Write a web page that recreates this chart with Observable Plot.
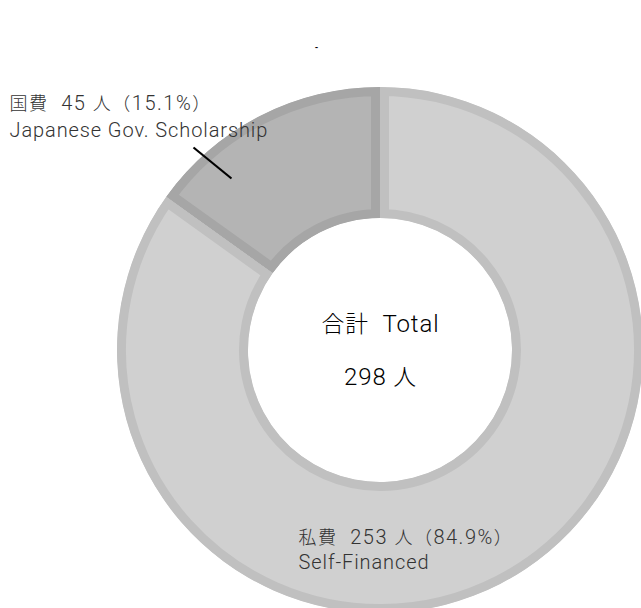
<!DOCTYPE html>
<html>
<head>
<meta charset="utf-8">
<script src="https://cdn.jsdelivr.net/npm/d3@7"></script>
<script src="https://cdn.jsdelivr.net/npm/@observablehq/plot@0.6"></script>
<style>
  html, body { margin: 0; padding: 0; background: #fff; }
  svg { display: block; }
</style>
</head>
<body>
<div id="chart"></div>
<script>
// ---- data ----
const categories = ["私費", "国費"];
const englishLabels = ["Self-Financed", "Japanese Gov. Scholarship"];
const counts = [253, 45];
const percents = [84.9, 15.1];
const totalLabel = "合計\u00a0 Total";
const total = 298;
const unit = "人";

const rows = categories.map((c, i) => ({
  category: c, english: englishLabels[i], count: counts[i], percent: percents[i]
}));

// ---- layout ----
const W = 641, H = 608;
const cx = 380, cy = 350, rOuter = 263, rInner = 132, border = 9;
const font = "Roboto, 'Noto Sans CJK JP', sans-serif";

const pie = d3.pie().sort(null).value(d => d.count);
const arcs = pie(rows);
const borderColors = {"私費": "#c0c0c0", "国費": "#a6a6a6"};

function donutMark(index, scales, values, dimensions, context) {
  const g = d3.create("svg:g")
    .attr("transform", `translate(${scales.x(cx)},${scales.y(cy)})`);
  const arc = d3.arc().innerRadius(rInner).outerRadius(rOuter);
  arcs.forEach((a, i) => {
    const id = "clip-slice-" + i;
    const d = arc(a);
    g.append("clipPath").attr("id", id).append("path").attr("d", d);
    g.append("path")
      .attr("d", d)
      .attr("fill", scales.color(a.data.category))
      .attr("stroke", borderColors[a.data.category])
      .attr("stroke-width", border * 2)
      .attr("clip-path", `url(#${id})`);
  });
  return g.node();
}

const labelLine = r => `${r.category}\u00a0 ${r.count} ${unit}（${r.percent}%）`;
const govLines = [labelLine(rows[1]), rows[1].english];
const selfLines = [labelLine(rows[0]), rows[0].english];

const plot = Plot.plot({
  width: W,
  height: H,
  margin: 0,
  x: {domain: [0, W], range: [0, W], axis: null},
  y: {domain: [0, H], range: [0, H], axis: null},
  color: {domain: categories, range: ["#d0d0d0", "#b4b4b4"]},
  style: {fontFamily: font, background: "#fff"},
  marks: [
    donutMark,
    Plot.link([0], {x1: 193, y1: 147, x2: 231, y2: 178, stroke: "#000", strokeWidth: 2.2}),
    Plot.text(govLines, {x: 9, y: (d, i) => 103 + i * 27, text: d => d, textAnchor: "start", fontSize: 20, fontWeight: 300, fill: "#333"}),
    Plot.text(selfLines, {x: 298, y: (d, i) => 537 + i * 25, text: d => d, textAnchor: "start", fontSize: 20, fontWeight: 300, fill: "#333"}),
    Plot.text([totalLabel, `${total} ${unit}`], {x: 380, y: (d, i) => 324 + i * 53, text: d => d, textAnchor: "middle", fontSize: 24, fontWeight: 300, fill: "#000"}),
    Plot.text(["-"], {x: 316, y: 47, text: d => d, fontSize: 9, fontWeight: "bold", fill: "#000"})
  ]
});

// Render CJK runs in the CJK font (slightly smaller in the side labels)
const cjk = /[\u3000-\u30ff\u3400-\u9fff\uff00-\uffef]/;
d3.select(plot).selectAll("text").each(function () {
  const el = this;
  if (el.querySelector("tspan")) return;
  const s = el.textContent;
  if (s === "-") return;
  const big = +el.getAttribute("font-size") >= 24 ||
    (el.parentNode && +el.parentNode.getAttribute("font-size") >= 24);
  const runs = [];
  for (const ch of s) {
    const isC = cjk.test(ch);
    if (runs.length && runs[runs.length - 1].c === isC) runs[runs.length - 1].t += ch;
    else runs.push({c: isC, t: ch});
  }
  el.textContent = "";
  for (const r of runs) {
    const ts = d3.select(el).append("tspan").text(r.t);
    if (r.c) ts.attr("font-size", big ? "0.95em" : "0.9em").attr("font-family", "'Noto Sans CJK JP', sans-serif").attr("font-weight", 300);
  }
  d3.select(el).attr("letter-spacing", s.includes("（") ? "1.5" : "0.9");
});
document.getElementById("chart").appendChild(plot);
</script>
</body>
</html>
